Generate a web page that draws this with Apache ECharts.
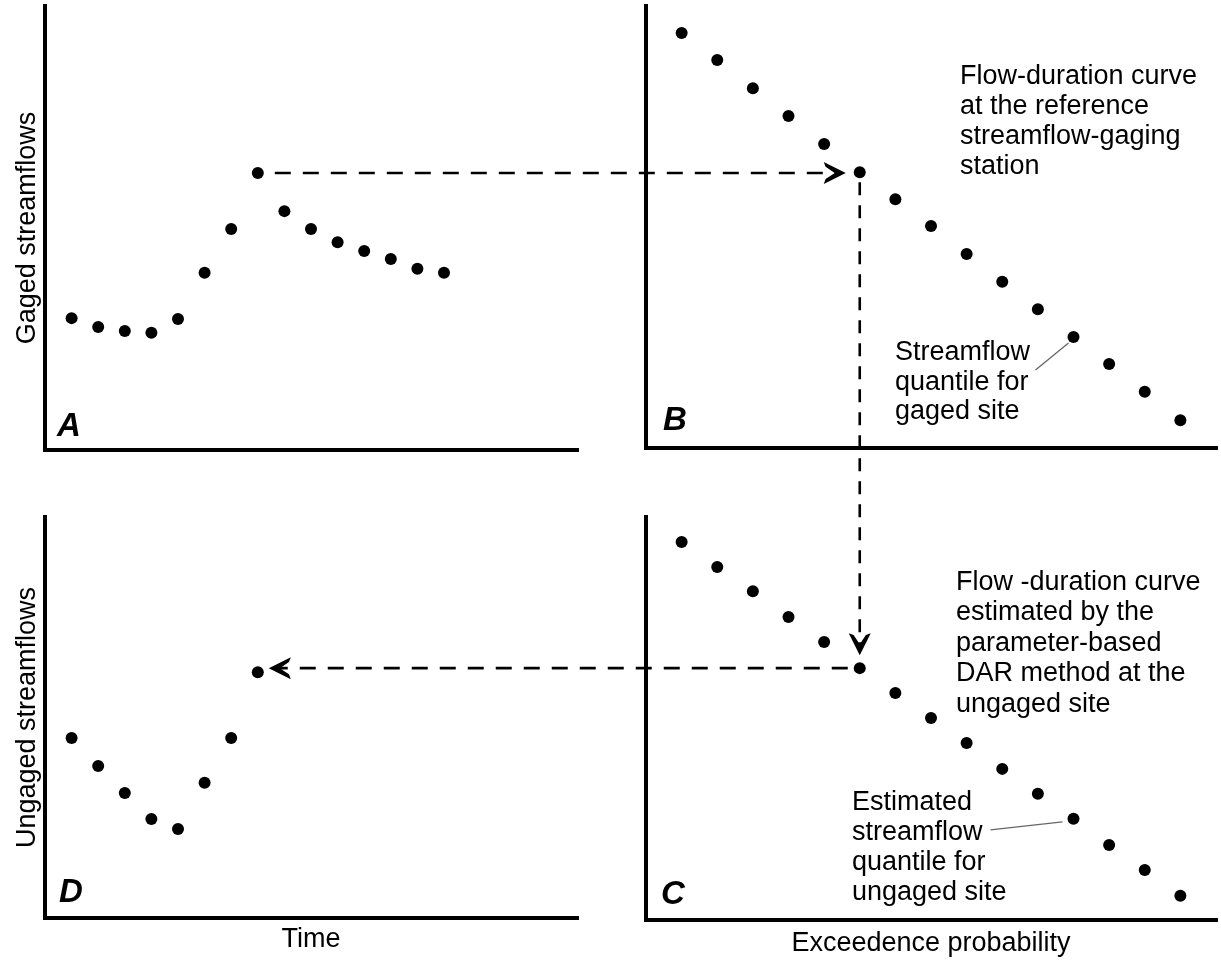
<!DOCTYPE html>
<html>
<head>
<meta charset="utf-8">
<script src="https://cdn.jsdelivr.net/npm/echarts@6/dist/echarts.min.js"></script>
<style>
html,body{margin:0;padding:0;background:#fff;}
#main{width:1221px;height:962px;}
</style>
</head>
<body>
<div id="main"></div>
<script>
// panel A: gaged streamflows in time
var gagedX = [1,2,3,4,5,6,7,8,9,10,11,12,13,14,15];
var gagedY = [29.7,27.7,26.8,26.4,29.5,39.9,49.8,62.4,53.8,49.8,46.8,44.8,43.0,40.8,39.9];
// panel B: flow-duration curve at reference station
var fdcX = [1,2,3,4,5,6,7,8,9,10,11,12,13,14,15];
var refFdcY = [93.9,87.8,81.4,75.1,68.8,62.4,56.3,50.2,43.9,37.6,31.4,25.1,19.0,12.7,6.3];
// panel C: estimated flow-duration curve at ungaged site
var estFdcY = [93.8,87.6,81.6,75.2,69.0,62.5,56.3,50.1,43.9,37.5,31.3,25.1,18.6,12.4,6.0];
// panel D: ungaged streamflows in time
var ungagedX = [1,2,3,4,5,6,7,8];
var ungagedY = [44.9,37.9,31.2,24.7,22.2,33.7,44.9,61.3];

var peakIdx = 7;      // day whose flow gets transferred
var quantileIdx = 5;  // matching point on the two duration curves
var calloutIdx = 11;  // point the callouts point at

var FONT = '"Liberation Sans", Arial, Helvetica, sans-serif';
var txt = {fontFamily: FONT, fontSize: 27, fontWeight: 'normal', color: '#000'};
var letter = {fontFamily: FONT, fontSize: 33, fontWeight: 'bold', fontStyle: 'italic', color: '#000'};

var chart = echarts.init(document.getElementById('main'));

function zipXY(xs, ys){
    var out = [];
    for (var i = 0; i < xs.length; i++) out.push([xs[i], ys[i]]);
    return out;
}
function frame(grid, max, name, gap, isY){
    return {
        type: 'value', gridIndex: grid, min: 0, max: max,
        axisLine: {show: true, onZero: false, lineStyle: {color: '#000', width: 4, cap: 'square'}},
        axisTick: {show: false}, axisLabel: {show: false}, splitLine: {show: false},
        name: name || '', nameLocation: 'middle', nameGap: gap || 0,
        nameRotate: isY ? 90 : 0,
        nameTextStyle: txt
    };
}
function dots(grid, data){
    return {type: 'scatter', xAxisIndex: grid, yAxisIndex: grid, data: data,
        symbolSize: 12, itemStyle: {color: '#000', opacity: 1}, silent: true};
}

var option = {
    animation: false,
    backgroundColor: '#fff',
    grid: [
        {left: 45, top: 6, width: 532, height: 444},   // A
        {left: 646, top: 6, width: 570, height: 442},  // B
        {left: 646, top: 517, width: 570, height: 403},// C
        {left: 45, top: 517, width: 532, height: 401}, // D
        {left: 0, top: 0, width: 1221, height: 962}    // overlay for arrows
    ],
    xAxis: [
        frame(0, 20),
        frame(1, 16),
        frame(2, 16, 'Exceedence probability', 10),
        frame(3, 20, 'Time', 8),
        {type: 'value', gridIndex: 4, min: 0, max: 1221, show: false}
    ],
    yAxis: [
        frame(0, 100, 'Gaged streamflows', 4, true),
        frame(1, 100),
        frame(2, 100),
        frame(3, 100, 'Ungaged streamflows', 4, true),
        {type: 'value', gridIndex: 4, min: 0, max: 962, inverse: true, show: false}
    ],
    title: [
        {text: 'A', left: 57, top: 410, padding: 0, textStyle: letter},
        {text: 'B', left: 663, top: 404, padding: 0, textStyle: letter},
        {text: 'C', left: 661, top: 878, padding: 0, textStyle: letter},
        {text: 'D', left: 59, top: 876, padding: 0, textStyle: letter},
        {text: 'Flow-duration curve\nat the reference\nstreamflow-gaging\nstation',
            left: 960, top: 62, padding: 0, textStyle: echarts.util.extend({lineHeight: 30}, txt)},
        {text: 'Streamflow\nquantile for\ngaged site',
            left: 895, top: 338, padding: 0, textStyle: echarts.util.extend({lineHeight: 29.5}, txt)},
        {text: 'Flow -duration curve\nestimated by the\nparameter-based\nDAR method at the\nungaged site',
            left: 956, top: 567, padding: 0, textStyle: echarts.util.extend({lineHeight: 30.5}, txt)},
        {text: 'Estimated\nstreamflow\nquantile for\nungaged site',
            left: 852, top: 788, padding: 0, textStyle: echarts.util.extend({lineHeight: 30}, txt)}
    ],
    series: [
        dots(0, zipXY(gagedX, gagedY)),
        dots(1, zipXY(fdcX, refFdcY)),
        dots(2, zipXY(fdcX, estFdcY)),
        dots(3, zipXY(ungagedX, ungagedY))
    ]
};
chart.setOption(option);

// pixel position of the transferred points, then back into the overlay grid
function px(grid, x, y){ return chart.convertToPixel({gridIndex: grid}, [x, y]); }
function ov(p){ return chart.convertFromPixel({gridIndex: 4}, p); }
var pA = px(0, gagedX[peakIdx], gagedY[peakIdx]);
var pB = px(1, fdcX[quantileIdx], refFdcY[quantileIdx]);
var pC = px(2, fdcX[quantileIdx], estFdcY[quantileIdx]);
var pD = px(3, ungagedX[peakIdx], ungagedY[peakIdx]);
var qB = px(1, fdcX[calloutIdx], refFdcY[calloutIdx]);
var qC = px(2, fdcX[calloutIdx], estFdcY[calloutIdx]);

function dash(a, b, pattern){
    return {type: 'line', xAxisIndex: 4, yAxisIndex: 4, data: [ov(a), ov(b)], symbol: 'none',
        silent: true, lineStyle: {color: '#000', width: 2.6, type: pattern}};
}
function leader(a, b){
    return {type: 'line', xAxisIndex: 4, yAxisIndex: 4, data: [ov(a), ov(b)], symbol: 'none',
        silent: true, lineStyle: {color: '#666', width: 1.3}};
}
// open arrowheads, bolder near the tip
var chevR = 'path://M0,0 L18,9 L0,18 L1.5,14 L9,9 L1.5,4 Z';
var chevD = 'path://M0,0 L9,18 L18,0 L14,1.5 L9,9 L4,1.5 Z';
var chevL = 'path://M18,0 L0,9 L18,18 L16.5,14 L9,9 L16.5,4 Z';
function head(p, sym, off){
    return {type: 'scatter', xAxisIndex: 4, yAxisIndex: 4, data: [ov(p)], symbol: sym,
        symbolSize: [22, 22], symbolOffset: off, symbolKeepAspect: true, silent: true,
        itemStyle: {color: '#000', opacity: 1}};
}

var tip1 = [pB[0] - 14, pA[1]];
var tip2 = [pB[0], pC[1] - 13];
var tip3 = [pD[0] + 11, pC[1]];

chart.setOption({
    series: option.series.concat([
        dash([pA[0] + 17, pA[1]], [tip1[0] - 6, tip1[1]], [16, 12]),
        head(tip1, chevR, [-11, 0]),
        dash([pB[0], pB[1] + 10], [tip2[0], tip2[1] - 6], [13, 10]),
        head(tip2, chevD, [0, -11]),
        dash([pC[0] - 12, pC[1]], [tip3[0] + 6, tip3[1]], [16, 12]),
        head(tip3, chevL, [11, 0]),
        leader([qB[0] - 38, qB[1] + 33], [qB[0] - 5, qB[1] + 6]),
        leader([qC[0] - 83, qC[1] + 11], [qC[0] - 11, qC[1] + 3])
    ])
});
</script>
</body>
</html>
